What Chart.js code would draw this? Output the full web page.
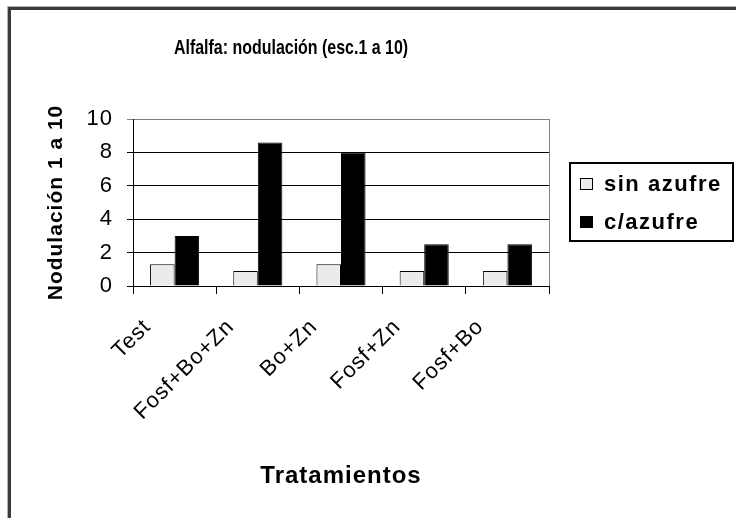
<!DOCTYPE html>
<html lang="es">
<head>
  <meta charset="UTF-8" />
  <title>Alfalfa: nodulación</title>
  <script src="https://cdn.jsdelivr.net/npm/chart.js"></script>
  <style>
    body {
      margin: 0;
      background: #fff;
      overflow: hidden;
    }
    .frame {
      position: absolute;
      left: 8px;
      top: 7px;
      width: 760px;
      height: 540px;
      border-left: 3px solid #3a3a3a;
      border-top: 3px solid #3a3a3a;
      box-shadow: -1px -1px 0 #b0b0b0;
    }
    #chart {
      position: absolute;
      left: 0;
      top: 0;
    }
  </style>
</head>
<body>

<div class="frame"></div>
<canvas id="chart" width="736" height="518"></canvas>

<script>
  const chartTitle = 'Alfalfa: nodulación (esc.1 a 10)';
  const categories = ['Test', 'Fosf+Bo+Zn', 'Bo+Zn', 'Fosf+Zn', 'Fosf+Bo'];
  const sinAzufre = [1.3, 0.9, 1.3, 0.9, 0.9];
  const conAzufre = [3, 8.6, 8, 2.5, 2.5];
  const seriesNames = ['sin azufre', 'c/azufre'];
  const yTicks = [0, 2, 4, 6, 8, 10];

  // gray plot frame under the grid + slightly spaced text like the old bitmap fonts
  const plotFrame = {
    id: 'plotFrame',
    beforeDraw(chart) {
      const { ctx, chartArea: a } = chart;
      ctx.save();
      ctx.strokeStyle = '#808080';
      ctx.lineWidth = 1;
      ctx.strokeRect(a.left + 0.5, a.top + 0.5, a.right - a.left, a.bottom - a.top);
      ctx.restore();
      ctx.letterSpacing = '1px';
    }
  };

  // condensed title and boxed legend
  const extras = {
    id: 'extras',
    afterDraw(chart) {
      const ctx = chart.ctx;
      ctx.save();
      ctx.letterSpacing = '0px';
      ctx.fillStyle = '#000';
      ctx.font = 'bold 21px "Liberation Sans", Arial, sans-serif';
      ctx.textAlign = 'center';
      ctx.textBaseline = 'middle';
      ctx.translate(291, 48);
      ctx.scale(0.76, 1);
      ctx.fillText(chartTitle, 0, 0);
      ctx.restore();

      const x = 570, y = 163, w = 163, h = 78;
      ctx.save();
      ctx.strokeStyle = '#000';
      ctx.lineWidth = 2;
      ctx.strokeRect(x, y, w, h);
      ctx.font = 'bold 22px "Liberation Sans", Arial, sans-serif';
      ctx.letterSpacing = '1.5px';
      ctx.textBaseline = 'middle';
      chart.data.datasets.forEach((ds, i) => {
        const cy = y + 21 + i * 38;
        ctx.fillStyle = ds.backgroundColor;
        ctx.fillRect(580, cy - 6, 13, 12);
        ctx.strokeStyle = '#000';
        ctx.lineWidth = 1;
        ctx.strokeRect(580.5, cy - 5.5, 12, 11);
        ctx.fillStyle = '#000';
        ctx.fillText(ds.label, 604, cy + 1);
      });
      ctx.restore();
    }
  };

  new Chart(document.getElementById('chart'), {
    type: 'bar',
    data: {
      labels: categories,
      datasets: [
        { label: seriesNames[0], data: sinAzufre, backgroundColor: '#ebebeb', borderColor: '#000', borderWidth: 1 },
        { label: seriesNames[1], data: conAzufre, backgroundColor: '#000', borderColor: '#000', borderWidth: 1 }
      ]
    },
    options: {
      responsive: false,
      animation: false,
      devicePixelRatio: 1,
      layout: { padding: { left: 0, right: 187, top: 119, bottom: 0 } },
      datasets: { bar: { categoryPercentage: 0.59, barPercentage: 1 } },
      plugins: {
        legend: { display: false },
        tooltip: { enabled: false },
        title: { display: false }
      },
      scales: {
        x: {
          afterFit(scale) { scale.height = 232; },
          border: { color: '#000' },
          grid: { drawOnChartArea: false, color: '#000', tickLength: 8 },
          ticks: {
            color: '#000',
            autoSkip: false,
            maxRotation: 45,
            minRotation: 45,
            padding: 20,
            labelOffset: -27,
            font: { family: '"Liberation Sans", Arial', size: 22 }
          },
          title: {
            display: true,
            text: 'Tratamientos',
            color: '#000',
            font: { family: '"Liberation Sans", Arial', size: 24, weight: 'bold' },
            padding: { top: 0, bottom: 27 }
          }
        },
        y: {
          min: 0,
          max: 10,
          afterFit(scale) { scale.width = 133; },
          afterBuildTicks(scale) { scale.ticks = yTicks.map(v => ({ value: v })); },
          border: { color: '#000' },
          grid: {
            color: ctx => ctx.tick && ctx.tick.value === 10 ? '#808080' : '#000',
            tickLength: 6
          },
          ticks: {
            color: '#000',
            padding: 14,
            font: { family: '"Liberation Sans", Arial', size: 22 }
          },
          title: {
            display: true,
            text: 'Nodulación 1 a 10',
            color: '#000',
            font: { family: '"Liberation Sans", Arial', size: 21, weight: 'bold' },
            padding: { top: 44, bottom: 0 }
          }
        }
      }
    },
    plugins: [plotFrame, extras]
  });
</script>

</body>
</html>
